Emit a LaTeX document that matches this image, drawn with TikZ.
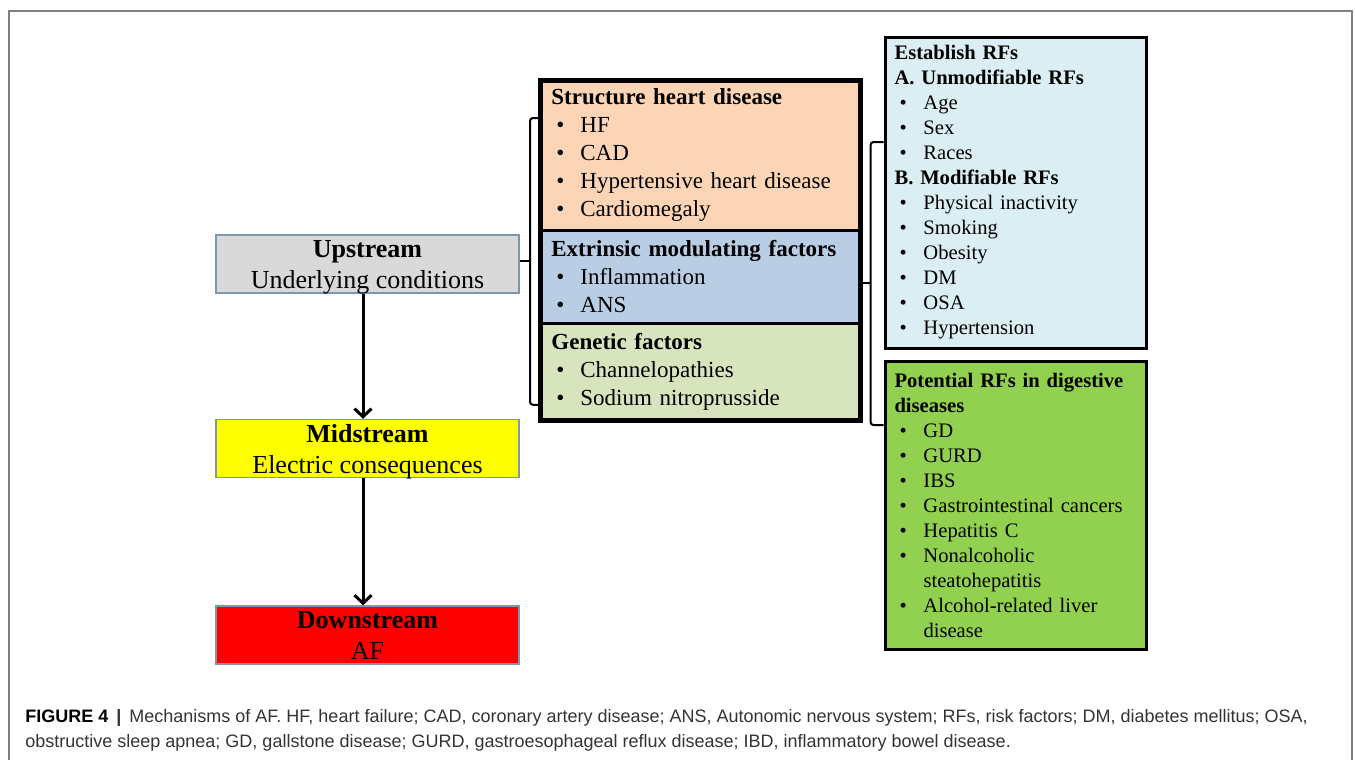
\documentclass[tikz,border=0pt]{standalone}
\usepackage{fontspec}
\setmainfont{Liberation Serif}
\newfontfamily\capfont{Liberation Sans}
\usepackage{xcolor}
\usetikzlibrary{shapes,arrows,arrows.meta}
\definecolor{upgray}{HTML}{D9D9D9}
\definecolor{upline}{HTML}{7F96B2}
\definecolor{midyel}{HTML}{FFFF00}
\definecolor{downred}{HTML}{FF0000}
\definecolor{shdfill}{HTML}{FBD5B5}
\definecolor{emffill}{HTML}{B9CDE5}
\definecolor{genfill}{HTML}{D7E4BD}
\definecolor{estfill}{HTML}{DBEEF4}
\definecolor{potfill}{HTML}{92D050}
\definecolor{capgray}{HTML}{333333}
\newcommand{\bul}{\makebox[14.5pt][l]{\hspace{2.5pt}\textbullet}}

\begin{document}
\begin{tikzpicture}[x=0.5pt,y=-0.5pt,>={Straight Barb[length=4pt,width=8.5pt]}]
    \tikzstyle{stream} = [draw=upline, line width=0.75pt, minimum width=151.5pt, minimum height=29pt, align=center, inner sep=0pt, text depth=0pt, font=\fontsize{13}{15.5}\selectfont]
    \tikzstyle{part} = [anchor=north west, text width=149pt, inner xsep=5.5pt, inner ysep=0pt, align=left, font=\fontsize{11.5}{14}\selectfont]
    \tikzstyle{rfbox} = [draw, line width=1.5pt, anchor=north west, text width=121.25pt, inner xsep=4.75pt, inner ysep=0pt, align=left, font=\fontsize{10.3}{12.5}\selectfont]
    \tikzstyle{bracket} = [line width=1pt, rounded corners=1.5pt]
    \tikzstyle{caption} = [anchor=base west, inner sep=0pt, text=capgray, font=\capfont\fontsize{9}{12.5}\selectfont]
    \useasboundingbox (0,0) rectangle (1355,760);
    %Frame
    \draw[gray, line width=0.75pt] (9,760) -- (9,11) -- (1352,11) -- (1352,760);
    %Creating Blocks
    \node[stream, fill=upgray] (up) at (367.5,264) {\textbf{Upstream}\\Underlying conditions};
    \node[stream, fill=midyel] (mid) at (367.5,448.5) {\textbf{Midstream}\\Electric consequences};
    \node[stream, fill=downred] (down) at (367.5,635) {\textbf{Downstream}\\AF};
    \node[part, fill=shdfill, minimum height=75pt] (shd) at (540,80) {\textbf{Structure heart disease}\\
        \bul HF\\ \bul CAD\\ \bul Hypertensive heart disease\\ \bul Cardiomegaly};
    \node[part, fill=emffill, minimum height=46.5pt] (emf) at (540,230) {\textbf{Extrinsic modulating factors}\\
        \bul Inflammation\\ \bul ANS};
    \node[part, fill=genfill, minimum height=48.5pt] (gen) at (540,323) {\textbf{Genetic factors}\\
        \bul Channelopathies\\ \bul Sodium nitroprusside};
    \draw[line width=1.5pt] (shd.south west) -- (shd.south east);
    \draw[line width=1.5pt] (gen.north west) -- (gen.north east);
    \draw[line width=2.5pt] (shd.north west) rectangle (gen.south east);
    \node[rfbox, fill=estfill, minimum height=155.5pt] (est) at (883.5,35.5) {\textbf{Establish RFs}\\
        \textbf{A. Unmodifiable RFs}\\ \bul Age\\ \bul Sex\\ \bul Races\\
        \textbf{B. Modifiable RFs}\\ \bul Physical inactivity\\ \bul Smoking\\ \bul Obesity\\
        \bul DM\\ \bul OSA\\ \bul Hypertension};
    \node[rfbox, fill=potfill, minimum height=144pt] (pot) at (883.5,360) {\textbf{Potential RFs in digestive}\\
        \textbf{diseases}\\ \bul GD\\ \bul GURD\\ \bul IBS\\ \bul Gastrointestinal cancers\\
        \bul Hepatitis C\\ \bul Nonalcoholic\\ \hspace*{14.5pt}steatohepatitis\\
        \bul Alcohol-related liver\\ \hspace*{14.5pt}disease};
    %Conecting Blocks
    \draw[->, line width=1.5pt] ([xshift=-2.25pt]up.south) -- ([xshift=-2.25pt]mid.north);
    \draw[->, line width=1.5pt] ([xshift=-2.25pt]mid.south) -- ([xshift=-2.25pt]down.north);
    \draw[bracket] ([yshift=-19pt]shd.north west) -- ++(-5pt,0) |- ([yshift=8pt]gen.south west);
    \draw[bracket] ([yshift=1.5pt]up.east) -- ([xshift=-5pt,yshift=1.5pt]shd.west |- up.east);
    \draw[bracket] ([yshift=-53.25pt]est.north west) -- ++(-6.5pt,0) |- ([yshift=-32.5pt]pot.north west);
    \draw[bracket] ([yshift=-3pt]emf.east) -- ([xshift=-6.5pt,yshift=-3pt]est.west |- emf.east);
    %Caption
    \node[caption] (cap1) at (25,722) {\textbf{\color{black}FIGURE 4}\hspace{4pt}\textbf{|}\hspace{4pt}Mechanisms of AF. HF, heart failure; CAD, coronary artery disease; ANS, Autonomic nervous system; RFs, risk factors; DM, diabetes mellitus; OSA,};
    \node[caption] (cap2) at (25,747) {obstructive sleep apnea; GD, gallstone disease; GURD, gastroesophageal reflux disease; IBD, inflammatory bowel disease.};
\end{tikzpicture}
\end{document}
